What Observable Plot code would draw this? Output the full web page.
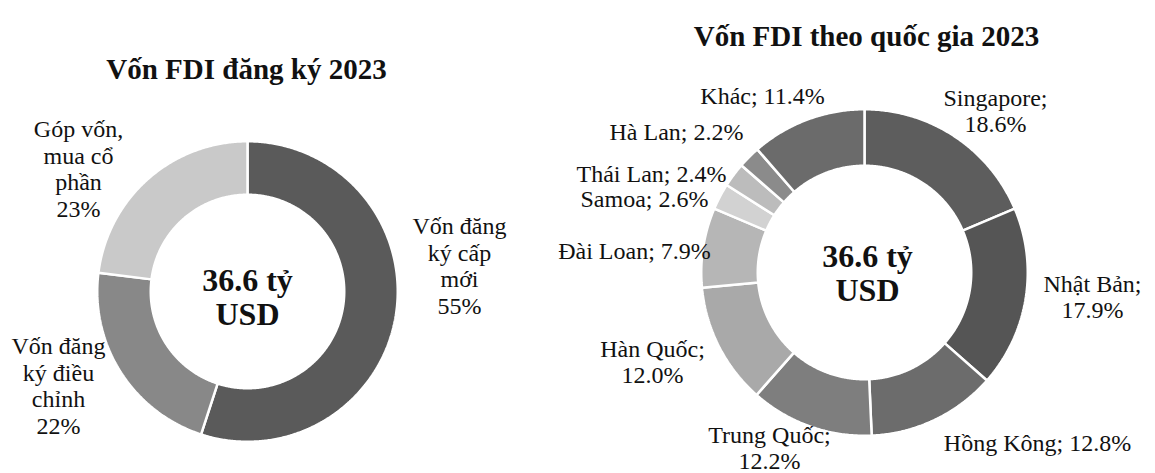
<!DOCTYPE html>
<html>
<head>
<meta charset="utf-8">
<script src="https://cdn.jsdelivr.net/npm/d3@7"></script>
<script src="https://cdn.jsdelivr.net/npm/@observablehq/plot@0.6"></script>
<style>
  html, body { margin: 0; padding: 0; background: #ffffff; }
  #wrap { position: relative; width: 1155px; height: 473px; overflow: hidden; background: #fff; }
  #wrap svg { position: absolute; top: 0; }
</style>
</head>
<body>
<div id="wrap"></div>
<script>
// ---------------- DATA ----------------
const totalText = "36.6 tỷ\nUSD";

// Left chart: Vốn FDI đăng ký 2023
const leftTitle = "Vốn FDI đăng ký 2023";
const leftCategories = ["Vốn đăng ký cấp mới", "Vốn đăng ký điều chỉnh", "Góp vốn, mua cổ phần"];
const leftShares = [55, 22, 23];
const leftLabels = ["Vốn đăng\nký cấp\nmới\n55%", "Vốn đăng\nký điều\nchỉnh\n22%", "Góp vốn,\nmua cổ\nphần\n23%"];

// Right chart: Vốn FDI theo quốc gia 2023
const rightTitle = "Vốn FDI theo quốc gia 2023";
const countries = ["Singapore", "Nhật Bản", "Hồng Kông", "Trung Quốc", "Hàn Quốc", "Đài Loan", "Samoa", "Thái Lan", "Hà Lan", "Khác"];
const countryShares = [18.6, 17.9, 12.8, 12.2, 12.0, 7.9, 2.6, 2.4, 2.2, 11.4];
const countryLabels = ["Singapore;\n18.6%", "Nhật Bản;\n17.9%", "Hồng Kông; 12.8%", "Trung Quốc;\n12.2%", "Hàn Quốc;\n12.0%", "Đài Loan; 7.9%", "Samoa; 2.6%", "Thái Lan; 2.4%", "Hà Lan; 2.2%", "Khác; 11.4%"];

// ---------------- STYLE / LAYOUT ----------------
const leftColors = ["#5a5a5a", "#888888", "#c9c9c9"];
const rightColors = ["#5d5d5d", "#555555", "#6c6c6c", "#7e7e7e", "#a9a9a9", "#b6b6b6", "#d2d2d2", "#bcbcbc", "#8b8b8b", "#6b6b6b"];

const FONT = "'Liberation Serif', 'Times New Roman', 'DejaVu Serif', serif";

const leftLayout = {
  left: 0, W: 540, H: 473, cx: 247, cy: 291, R: 149, r: 98,
  title: [-1, -213], center: [0, 324],
  labelOffsets: [[212, 22], [-189, 142], [-169, -75]],
  labelLineHeight: 1.1
};
leftLayout.center = [0, 33];
const rightLayout = {
  left: 540, W: 615, H: 473, cx: 324, cy: 272, R: 162, r: 108,
  title: [2, -227], center: [3, 28],
  labelOffsets: [[131, -141], [228, 45], [173, 178], [-95, 196], [-212, 110], [-230, -14], [-220, -66], [-213, -91], [-188, -133], [-102, -169]],
  labelLineHeight: 1.05
};

// ---------------- DRAW ----------------
function donut(names, values, colors, labels, title, L) {
  const {W, H, cx, cy, R, r} = L;
  const gap = 1.25; // half of white separator stroke
  const outer = (R + gap) / R, inner = (r - gap) / R;
  const arcs = d3.pie().sort(null).value(d => d.value)(names.map((n, i) => ({name: n, value: values[i]})));
  const pts = [];
  for (const s of arcs) {
    const n = Math.max(4, Math.ceil((s.endAngle - s.startAngle) / (Math.PI / 360)));
    const ring = [];
    for (let k = 0; k <= n; k++) {
      const a = s.startAngle + (s.endAngle - s.startAngle) * k / n;
      ring.push({name: s.data.name, x: outer * Math.sin(a), y: outer * Math.cos(a)});
    }
    for (let k = n; k >= 0; k--) {
      const a = s.startAngle + (s.endAngle - s.startAngle) * k / n;
      ring.push({name: s.data.name, x: inner * Math.sin(a), y: inner * Math.cos(a)});
    }
    ring.push({...ring[0]});
    pts.push(...ring);
  }
  const labelData = names.map((n, i) => ({
    text: labels[i], x: L.labelOffsets[i][0] / R, y: -L.labelOffsets[i][1] / R
  }));
  return Plot.plot({
    width: W, height: H, margin: 0,
    style: {fontFamily: FONT, background: "transparent", color: "#111"},
    x: {domain: [-cx / R, (W - cx) / R], axis: null},
    y: {domain: [-(H - cy) / R, cy / R], axis: null},
    color: {domain: names, range: colors},
    marks: [
      Plot.line(pts, {x: "x", y: "y", z: "name", fill: "name", stroke: "white", strokeWidth: 2.5, strokeLinejoin: "miter"}),
      Plot.text(labelData, {x: "x", y: "y", text: "text", textAnchor: "middle", lineAnchor: "bottom",
        fontSize: 24, lineHeight: L.labelLineHeight, fill: "#111"}),
      Plot.text([totalText], {x: L.center[0] / R, y: -L.center[1] / R, text: d => d, textAnchor: "middle",
        lineAnchor: "bottom", fontSize: 32, fontWeight: "bold", lineHeight: 1.04, fill: "#111"}),
      Plot.text([title], {x: L.title[0] / R, y: -L.title[1] / R, text: d => d, textAnchor: "middle",
        lineAnchor: "bottom", fontSize: 29, fontWeight: "bold", fill: "#111"})
    ]
  });
}

const wrap = document.getElementById("wrap");
const s1 = donut(leftCategories, leftShares, leftColors, leftLabels, leftTitle, leftLayout);
s1.style.left = leftLayout.left + "px";
wrap.appendChild(s1);
const s2 = donut(countries, countryShares, rightColors, countryLabels, rightTitle, rightLayout);
s2.style.left = rightLayout.left + "px";
wrap.appendChild(s2);
</script>
</body>
</html>
